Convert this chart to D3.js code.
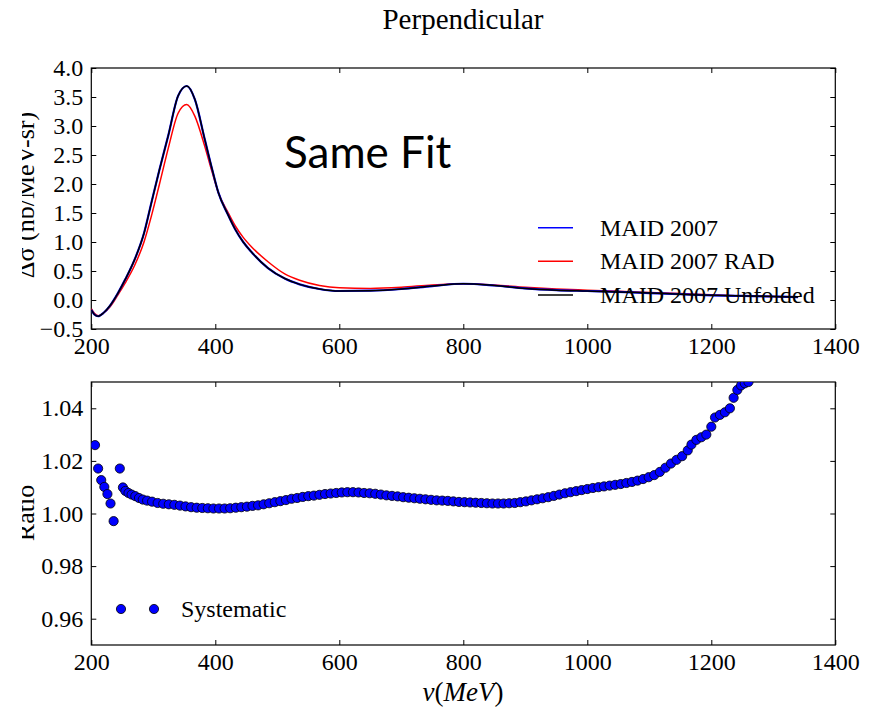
<!DOCTYPE html>
<html><head><meta charset="utf-8">
<script src="https://cdn.jsdelivr.net/npm/d3@7"></script>
<style>body{margin:0;background:#fff}</style>
</head><body><svg id="c" width="873" height="710"></svg>
<script>
// ---- data ----
const energy = [200,205,211,220,230,243,255,270,285,297,310,324,340,354,367,383,395,405,420,432,445,459,485,512,536,568,600,650,700,750,800,850,900,950,1000,1050,1100,1150,1200,1250,1300,1340];
const maid2007 = [-0.17,-0.25,-0.28,-0.22,-0.10,0.12,0.36,0.70,1.15,1.68,2.25,2.83,3.52,3.69,3.46,2.77,2.25,1.85,1.48,1.22,1.00,0.82,0.55,0.37,0.27,0.19,0.155,0.16,0.19,0.24,0.28,0.25,0.20,0.17,0.155,0.14,0.12,0.10,0.08,0.07,0.06,0.05];
const maid2007Rad = [-0.15,-0.23,-0.27,-0.22,-0.12,0.09,0.30,0.60,1.00,1.45,2.00,2.61,3.22,3.37,3.17,2.65,2.20,1.85,1.52,1.28,1.08,0.91,0.66,0.45,0.34,0.25,0.21,0.20,0.22,0.26,0.28,0.26,0.22,0.19,0.17,0.15,0.13,0.11,0.09,0.07,0.06,0.05];
const maid2007Unfolded = [-0.17,-0.25,-0.28,-0.22,-0.10,0.12,0.36,0.70,1.15,1.68,2.25,2.83,3.52,3.69,3.46,2.77,2.25,1.85,1.48,1.22,1.00,0.82,0.55,0.37,0.27,0.19,0.155,0.16,0.19,0.24,0.28,0.25,0.20,0.17,0.155,0.14,0.12,0.10,0.08,0.07,0.06,0.05];
const seriesNames = ["MAID 2007","MAID 2007 RAD","MAID 2007 Unfolded"];
const seriesColors = ["#0000ff","#ff0000","#000000"];

const ratioEnergy = [206,211,216,221,226,231,236,246,251,255,260,265,271,277,283,290,298,307,316,325,334,343,352,361,370,379,388,397,406,415,424,433,442,451,460,469,478,487,496,505,514,523,532,541,550,559,568,577,586,595,604,613,622,631,640,649,658,667,676,685,694,703,712,721,730,739,748,757,766,775,784,793,802,811,820,829,838,847,856,865,874,883,892,901,910,919,928,937,946,955,964,973,982,991,1000,1009,1018,1027,1036,1045,1054,1063,1072,1081,1090,1099,1108,1117,1126,1135,1144,1153,1162,1168,1176,1184,1192,1200,1206,1214,1222,1230,1236,1242,1248,1254,1260,1266];
const ratioValue = [1.0260,1.0171,1.0127,1.0101,1.0074,1.0038,0.9971,1.0171,1.0099,1.0086,1.0078,1.0072,1.0066,1.0059,1.0053,1.0049,1.0045,1.0040,1.0037,1.0035,1.0033,1.0030,1.0027,1.0024,1.0022,1.0021,1.0020,1.0019,1.0019,1.0019,1.0020,1.0022,1.0024,1.0026,1.0029,1.0031,1.0035,1.0039,1.0043,1.0047,1.0051,1.0056,1.0059,1.0063,1.0066,1.0068,1.0071,1.0074,1.0076,1.0078,1.0080,1.0081,1.0081,1.0080,1.0078,1.0077,1.0075,1.0072,1.0069,1.0067,1.0065,1.0062,1.0060,1.0058,1.0056,1.0054,1.0052,1.0050,1.0049,1.0048,1.0046,1.0044,1.0043,1.0042,1.0041,1.0040,1.0039,1.0038,1.0038,1.0038,1.0039,1.0040,1.0043,1.0046,1.0050,1.0054,1.0058,1.0062,1.0067,1.0072,1.0077,1.0081,1.0085,1.0089,1.0093,1.0097,1.0100,1.0103,1.0106,1.0109,1.0112,1.0116,1.0120,1.0125,1.0131,1.0138,1.0146,1.0158,1.0174,1.0190,1.0204,1.0218,1.0240,1.0262,1.0280,1.0290,1.0300,1.0330,1.0365,1.0375,1.0385,1.0400,1.0440,1.0470,1.0487,1.0495,1.0500,1.0520];
const ratioLegend = "Systematic";

const xTicks = [200,400,600,800,1000,1200,1400];
const topYTicks = [-0.5,0.0,0.5,1.0,1.5,2.0,2.5,3.0,3.5,4.0];
const botYTicks = [0.96,0.98,1.00,1.02,1.04];

// ---- layout ----
const svg = d3.select("#c");
const serif = "'Liberation Serif','Times New Roman',serif";
const L = 91.3, R = 835.3;
const top1 = 68, bot1 = 329, top2 = 382, bot2 = 645;
const x1 = d3.scaleLinear().domain([200,1400]).range([L,R]);
const y1 = d3.scaleLinear().domain([-0.5,4.0]).range([bot1,top1]);
const y2 = d3.scaleLinear().domain([0.95,1.05]).range([bot2,top2]);

const defs = svg.append("defs");
defs.append("clipPath").attr("id","clip1").append("rect").attr("x",L).attr("y",top1).attr("width",R-L).attr("height",bot1-top1);
defs.append("clipPath").attr("id","clip2").append("rect").attr("x",L).attr("y",top2).attr("width",R-L).attr("height",bot2-top2);
defs.append("clipPath").attr("id","clipL").append("rect").attr("x",22).attr("y",0).attr("width",100).attr("height",710);

function frame(ys, top, bot, fmt, ticks) {
  const fs = 24;
  const gB = svg.append("g").attr("transform",`translate(0,${bot})`)
    .call(d3.axisBottom(x1).tickValues(xTicks).tickSizeInner(-5).tickSizeOuter(0).tickPadding(8).tickFormat(d3.format("d")));
  const gT = svg.append("g").attr("transform",`translate(0,${top})`)
    .call(d3.axisTop(x1).tickValues(xTicks).tickSizeInner(-5).tickSizeOuter(0).tickFormat(""));
  const gL = svg.append("g").attr("transform",`translate(${L},0)`)
    .call(d3.axisLeft(ys).tickValues(ticks).tickSizeInner(-5).tickSizeOuter(0).tickPadding(8).tickFormat(fmt));
  const gR = svg.append("g").attr("transform",`translate(${R},0)`)
    .call(d3.axisRight(ys).tickValues(ticks).tickSizeInner(-5).tickSizeOuter(0).tickFormat(""));
  [gB,gT,gL,gR].forEach(g=>{
    g.select(".domain").remove();
    g.selectAll("line").attr("stroke","#000").attr("stroke-width",1);
    g.selectAll("text").attr("font-family",serif).attr("font-size",fs).attr("fill","#000");
  });
  svg.append("rect").attr("x",L).attr("y",top).attr("width",R-L).attr("height",bot-top)
    .attr("fill","none").attr("stroke","#000").attr("stroke-width",1.2);
}

// top panel
const fmtTop = d => (d<0?"\u2212":"") + Math.abs(d).toFixed(1);
frame(y1, top1, bot1, fmtTop, topYTicks);
const line = d3.line().x((d,i)=>x1(energy[i])).y(d=>y1(d)).curve(d3.curveMonotoneX);
const gl = svg.append("g").attr("clip-path","url(#clip1)");
[maid2007Rad, maid2007, maid2007Unfolded].forEach((s,k)=>{
  const idx = [1,0,2][k];
  gl.append("path").attr("d",line(s)).attr("fill","none").attr("stroke",seriesColors[idx]).attr("stroke-width",idx===0?2.2:1.5);
});

svg.append("text").attr("x",284).attr("y",168).attr("font-family","Lato,'Open Sans',sans-serif")
  .attr("font-size",44).attr("fill","#000").text("Same Fit");

// legend top
seriesNames.forEach((n,i)=>{
  const yy = 227.7 + i*33.6;
  svg.append("line").attr("x1",538).attr("x2",573).attr("y1",yy).attr("y2",yy).attr("stroke",seriesColors[i]).attr("stroke-width",1.5);
  svg.append("text").attr("x",600).attr("y",yy+8).attr("font-family",serif).attr("font-size",24).attr("fill","#000").text(n);
});

// y label top
svg.append("g").attr("clip-path","url(#clipL)").append("text")
  .attr("transform","translate(34,195) rotate(-90)").attr("text-anchor","middle")
  .attr("font-family",serif).attr("font-size",26).attr("fill","#000").text("\u0394\u03C3 (nb/MeV-sr)");

// bottom panel
frame(y2, top2, bot2, d3.format(".2f"), botYTicks);
const gp = svg.append("g").attr("clip-path","url(#clip2)");
gp.selectAll("circle").data(ratioValue).join("circle")
  .attr("cx",(d,i)=>x1(ratioEnergy[i])).attr("cy",d=>y2(d)).attr("r",4.6)
  .attr("fill","#0000ff").attr("stroke","#000").attr("stroke-width",0.8);

[121,154].forEach(cx=>svg.append("circle").attr("cx",cx).attr("cy",609).attr("r",4.6)
  .attr("fill","#0000ff").attr("stroke","#000").attr("stroke-width",0.8));
svg.append("text").attr("x",181).attr("y",617).attr("font-family",serif).attr("font-size",24).attr("fill","#000").text(ratioLegend);

svg.append("g").attr("clip-path","url(#clipL)").append("text")
  .attr("transform","translate(34,513) rotate(-90)").attr("text-anchor","middle")
  .attr("font-family",serif).attr("font-size",26).attr("fill","#000").text("Ratio");

// x label
const xl = svg.append("text").attr("x",463).attr("y",701).attr("text-anchor","middle")
  .attr("font-family",serif).attr("font-size",27).attr("fill","#000");
xl.append("tspan").attr("font-style","italic").text("\u03BD");
xl.append("tspan").text("(");
xl.append("tspan").attr("font-style","italic").text("MeV");
xl.append("tspan").text(")");

// title
svg.append("text").attr("x",463).attr("y",29).attr("text-anchor","middle")
  .attr("font-family",serif).attr("font-size",29).attr("fill","#000").text("Perpendicular");
</script></body></html>
